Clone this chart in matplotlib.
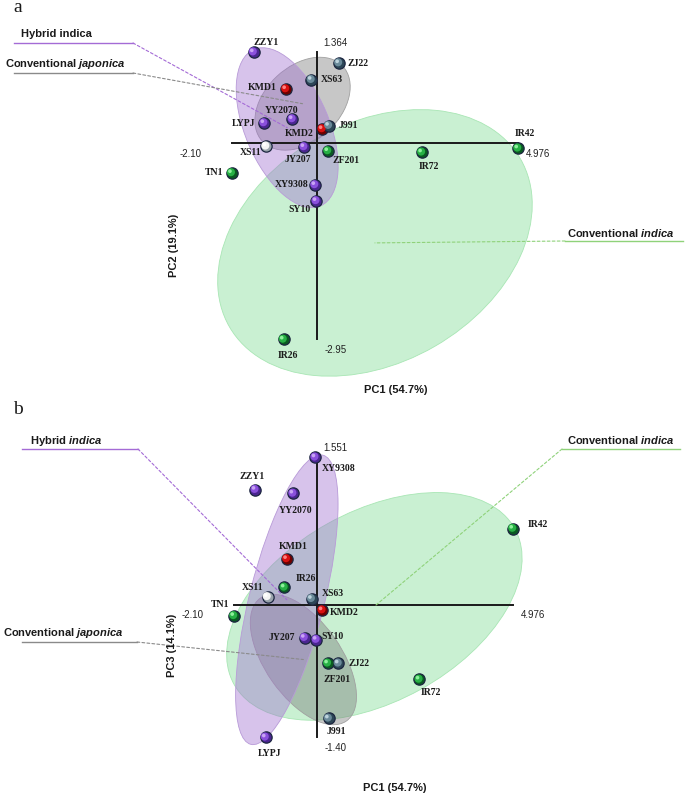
"""
PCA score plots (PC1 vs PC2, PC1 vs PC3) of rice cultivars with group ellipses
"""

### Import modules
import numpy as np
import matplotlib.pyplot as plt
from matplotlib.patches import Ellipse
from matplotlib import transforms

plt.rcParams['mathtext.fontset'] = 'custom'
plt.rcParams['mathtext.rm'] = 'Liberation Sans:bold'
plt.rcParams['mathtext.it'] = 'Liberation Sans:italic:bold'

### Cultivars and PCA scores
names = ['ZZY1', 'ZJ22', 'XS63', 'KMD1', 'YY2070', 'LYPJ', 'KMD2', 'J991',
         'XS11', 'JY207', 'ZF201', 'TN1', 'XY9308', 'SY10', 'IR72', 'IR42',
         'IR26']
groups = ['hyb', 'jap', 'jap', 'kmd', 'hyb', 'hyb', 'kmd', 'jap',
          'xs', 'hyb', 'ind', 'ind', 'hyb', 'hyb', 'ind', 'ind', 'ind']
pc1 = [-1.56, 0.55, -0.13, -0.76, -0.60, -1.30, 0.14, 0.30,
       -1.25, -0.31, 0.28, -2.10, -0.04, -0.01, 2.60, 4.976, -0.82]
pc2 = [1.364, 1.20, 0.95, 0.81, 0.36, 0.30, 0.21, 0.26,
       -0.05, -0.06, -0.12, -0.45, -0.63, -0.87, -0.14, -0.08, -2.95]
pc3 = [1.21, -0.62, 0.06, 0.48, 1.17, -1.40, -0.06, -1.20,
       0.08, -0.35, -0.62, -0.12, 1.551, -0.37, -0.79, 0.80, 0.18]

### Group ellipses: centre (data), width/height (pixels), angle
ell_a = {'ind': ((1.44, -1.50), 336, 239, 30),
         'hyb': ((-0.73, 0.23), 170, 84, 113),
         'jap': ((-0.35, 0.59), 110, 75, 43)}
ell_b = {'ind': ((1.46, -0.02), 321, 190, 29),
         'hyb': ((-0.76, 0.05), 298, 75, 76),
         'jap': ((-0.34, -0.58), 150, 76, -55)}

ell_face = {'ind': ('#7fdc95', 0.42, '#a8e6b4'),
            'hyb': ('#a070d0', 0.42, '#b89ad8'),
            'jap': ('#6e6e6e', 0.38, '#a0a0a0')}

### Sphere colours: dark, mid, highlight
sphere = {'hyb': ('#4a2590', '#8a50dc', '#c8a4f4'),
          'ind': ('#0a5a22', '#27b045', '#8ef09c'),
          'jap': ('#2c4656', '#6a8a9a', '#bcd2dc'),
          'kmd': ('#700000', '#d81010', '#ff8080'),
          'xs': ('#9aa4ac', '#f4f4f4', '#ffffff')}

### Label offsets (pixels right, pixels down, alignment)
lab_a = {'ZZY1': (13, -10, 'center'), 'ZJ22': (9, 0, 'left'),
         'XS63': (9, 0, 'left'), 'KMD1': (-9, -2, 'right'),
         'YY2070': (-11, -9, 'center'), 'LYPJ': (-9, 0, 'right'),
         'KMD2': (-9, 4, 'right'), 'J991': (10, 0, 'left'),
         'XS11': (-5, 6, 'right'), 'JY207': (-6, 13, 'center'),
         'ZF201': (18, 10, 'center'), 'TN1': (-8, 0, 'right'),
         'XY9308': (-7, 0, 'right'), 'SY10': (-17, 9, 'center'),
         'IR72': (7, 14, 'center'), 'IR42': (7, -15, 'center'),
         'IR26': (4, 16, 'center')}
lab_b = {'XY9308': (7, 11, 'left'), 'ZZY1': (-3, -13, 'center'),
         'YY2070': (2, 17, 'center'), 'KMD1': (6, -12, 'center'),
         'IR26': (11, -9, 'left'), 'XS11': (-4, -9, 'right'),
         'XS63': (10, -5, 'left'), 'KMD2': (7, 2, 'left'),
         'TN1': (-5, -11, 'right'), 'JY207': (-10, 0, 'right'),
         'SY10': (5, -3, 'left'), 'ZF201': (9, 16, 'center'),
         'ZJ22': (10, 0, 'left'), 'IR72': (12, 13, 'center'),
         'J991': (8, 13, 'center'), 'LYPJ': (4, 16, 'center'),
         'IR42': (15, -4, 'left')}

W, H = 685, 797
fig = plt.figure(figsize=(W/100, H/100), dpi=100)

def fpx(px, py):
    """top-left pixel -> figure fraction"""
    return (px/W, 1 - py/H)

def draw_panel(ax, ys, ells, labs, ylo, yhi, ticklab):
    ### Ellipses
    for g in ['ind', 'jap', 'hyb']:
        (cx, cy), w, h, ang = ells[g]
        fc, al, ec = ell_face[g]
        tr = fig.dpi_scale_trans + transforms.ScaledTranslation(cx, cy, ax.transData)
        e = Ellipse((0, 0), w/100, h/100, angle=ang, transform=tr,
                    facecolor=fc, alpha=al, edgecolor='none', zorder=1)
        ax.add_patch(e)
        e2 = Ellipse((0, 0), w/100, h/100, angle=ang, transform=tr,
                     facecolor='none', edgecolor=ec, lw=0.6, zorder=1)
        ax.add_patch(e2)

    ### Axes lines through the origin
    ax.plot([min(pc1), max(pc1)], [0, 0], color='#1a1a1a', lw=1.4, zorder=2)
    ax.plot([0, 0], [ylo, yhi], color='#1a1a1a', lw=1.4, zorder=2)
    tk = dict(fontsize=7, family='Liberation Sans', color='#222222',
              textcoords='offset points', va='center')
    ax.annotate(ticklab[0], (min(pc1), 0), xytext=(-30*0.72, -11*0.72), ha='right', **tk)
    ax.annotate(ticklab[1], (max(pc1), 0), xytext=(8*0.72, -11*0.72), ha='left', **tk)
    ax.annotate(ticklab[2], (0, yhi), xytext=(7*0.72, 9*0.72), ha='left', **tk)
    ax.annotate(ticklab[3], (0, ylo), xytext=(8*0.72, -11*0.72), ha='left', **tk)

    ### Spheres
    for i, n in enumerate(names):
        dk, md, hl = sphere[groups[i]]
        ax.scatter(pc1[i], ys[i], s=66, color=dk, edgecolor='#1c2640',
                   linewidth=0.9, zorder=4)
        off1 = transforms.offset_copy(ax.transData, fig=fig, x=-0.8, y=0.8, units='dots')
        ax.scatter(pc1[i], ys[i], s=34, color=md, edgecolor='none',
                   transform=off1, zorder=5)
        off2 = transforms.offset_copy(ax.transData, fig=fig, x=-1.8, y=1.8, units='dots')
        ax.scatter(pc1[i], ys[i], s=7, color=hl, edgecolor='none',
                   transform=off2, zorder=6)
        dx, dy, ha = labs[n]
        ax.annotate(n, (pc1[i], ys[i]), xytext=(dx*0.72, -dy*0.72),
                    textcoords='offset points', ha=ha, va='center',
                    fontsize=7, family='Liberation Serif', fontweight='bold',
                    color='#1a1a1a', zorder=7)

def callout(ax, text, txy, line, target, color):
    fig.text(*fpx(*txy), text, fontsize=8, family='Liberation Sans',
             fontweight='bold', color='#1a1a1a', ha='left', va='center')
    x0, x1, yl = line
    fig.add_artist(plt.Line2D([x0/W, x1/W], [1 - yl/H, 1 - yl/H],
                              color=color, lw=1.0))
    xe, ye = (x0, yl) if x0 > 300 else (x1, yl)
    ax.annotate('', xy=target, xycoords='data', xytext=fpx(xe, ye),
                textcoords='figure fraction', zorder=3,
                arrowprops=dict(arrowstyle='-', linestyle=(0, (2.5, 2)),
                                color=color, lw=0.8, shrinkA=0, shrinkB=0))

###############################################################################
### Panel a : PC1 vs PC2
axa = fig.add_axes([0, 1 - 400/H, 1, 400/H])
axa.set_xlim(-316.7/40.46, (W - 316.7)/40.46)
axa.set_ylim((143 - 400)/66.6, 143/66.6)
axa.axis('off')
draw_panel(axa, pc2, ell_a, lab_a, min(pc2), max(pc2),
           ['-2.10', '4.976', '1.364', '-2.95'])
callout(axa, 'Hybrid indica', (21, 34), (14, 133, 43), ell_a['hyb'][0], '#a46bd6')
callout(axa, r'Conventional $japonica$', (5, 64), (14, 133, 73), ell_a['jap'][0], '#8a8a8a')
callout(axa, r'Conventional $indica$', (567, 233), (565, 683, 241), ell_a['ind'][0], '#8fd27a')

fig.text(*fpx(396, 390), 'PC1 (54.7%)', fontsize=8, family='Liberation Sans',
         fontweight='bold', ha='center', va='center', color='#1a1a1a')
fig.text(*fpx(174, 245), 'PC2 (19.1%)', fontsize=8, family='Liberation Sans',
         fontweight='bold', ha='center', va='center', rotation=90, color='#1a1a1a')
fig.text(*fpx(18, 8), 'a', fontsize=14, family='Liberation Serif',
         ha='center', va='center', color='#1a1a1a')

###############################################################################
### Panel b : PC1 vs PC3
axb = fig.add_axes([0, 0, 1, 397/H])
axb.set_xlim(-316.8/39.43, (W - 316.8)/39.43)
axb.set_ylim((604.5 - 797)/94.9, (604.5 - 400)/94.9)
axb.axis('off')
draw_panel(axb, pc3, ell_b, lab_b, min(pc3), max(pc3),
           ['-2.10', '4.976', '1.551', '-1.40'])
callout(axb, r'Hybrid $indica$', (30, 441), (22, 138, 449), ell_b['hyb'][0], '#a46bd6')
callout(axb, r'Conventional $japonica$', (3, 633), (22, 137, 642), ell_b['jap'][0], '#8a8a8a')
callout(axb, r'Conventional $indica$', (567, 440), (562, 680, 449), ell_b['ind'][0], '#8fd27a')

fig.text(*fpx(395, 788), 'PC1 (54.7%)', fontsize=8, family='Liberation Sans',
         fontweight='bold', ha='center', va='center', color='#1a1a1a')
fig.text(*fpx(172, 645), 'PC3 (14.1%)', fontsize=8, family='Liberation Sans',
         fontweight='bold', ha='center', va='center', rotation=90, color='#1a1a1a')
fig.text(*fpx(18, 409), 'b', fontsize=14, family='Liberation Serif',
         ha='center', va='center', color='#1a1a1a')

plt.savefig('out.png', dpi=100, facecolor='white')
